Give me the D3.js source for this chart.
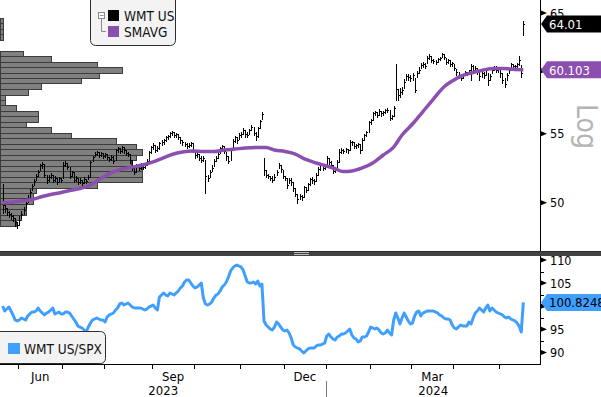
<!DOCTYPE html>
<html>
<head>
<meta charset="utf-8">
<script src="https://cdn.jsdelivr.net/npm/d3@7"></script>
<style>
  html, body { margin: 0; padding: 0; background: #fff; }
  svg { display: block; font-family: "DejaVu Sans Condensed", "DejaVu Sans", sans-serif; font-stretch: condensed; }
</style>
</head>
<body>
<div id="chart"></div>
<script>
// trading calendar: first / last day and exchange holidays in between
const startDay = "2023-05-19", endDay = "2024-05-16";
const holidays = ["2023-05-29", "2023-06-19", "2023-07-04", "2023-09-04", "2023-11-23",
  "2023-12-25", "2024-01-01", "2024-01-15", "2024-02-19", "2024-03-29"];

// WMT US daily bars (split adjusted): close, high, low
const wmtClose = [
  49.84, 49.64, 49.36, 49.23, 49.09, 48.96, 48.69, 48.48, 48.82, 49.23,
  49.50, 49.98, 50.33, 50.75, 51.17, 51.52, 51.88, 52.17, 52.68, 52.75,
  51.95, 51.59, 51.81, 51.95, 51.59, 51.74, 51.45, 51.74, 51.59, 52.68,
  52.82, 52.53, 51.88, 52.17, 51.59, 51.74, 51.45, 51.59, 51.38, 51.66,
  51.52, 51.81, 52.90, 53.26, 53.48, 53.63, 53.41, 53.56, 53.34, 53.48,
  53.26, 53.12, 53.26, 52.97, 53.78, 53.93, 53.70, 54.00, 53.78, 53.56,
  53.48, 53.04, 52.46, 52.17, 52.60, 52.46, 52.75, 52.53, 52.68, 52.97,
  53.63, 54.00, 54.15, 53.78, 53.93, 54.30, 54.38, 54.53, 54.76, 54.83,
  55.06, 55.14, 54.91, 54.98, 54.76, 54.53, 54.38, 54.23, 54.08, 54.15,
  54.30, 53.78, 53.41, 53.48, 53.19, 53.04, 53.19, 51.88, 51.74, 52.17,
  52.46, 52.97, 53.19, 53.48, 53.93, 54.08, 53.70, 53.34, 52.97, 53.78,
  54.45, 54.76, 54.53, 54.91, 54.98, 55.29, 54.98, 54.91, 55.29, 55.52,
  55.06, 54.83, 55.44, 55.98,
  56.53, 52.31, 51.95, 51.88, 51.74, 51.59, 51.81, 52.17, 52.68, 52.39,
  51.88, 51.74, 51.24, 51.59, 51.45, 51.03, 50.61, 50.26, 50.47, 50.40,
  51.10, 50.89, 51.31, 51.66, 51.59, 51.52, 51.95, 52.39, 52.68, 52.46,
  52.60, 53.19, 52.90, 52.68, 52.24, 52.39, 52.90, 53.63, 53.78, 53.70,
  53.85, 53.78, 54.38, 54.38, 54.08, 54.15, 54.23, 53.78, 54.53, 54.91,
  55.14, 55.90, 56.06, 56.61, 56.68, 56.45, 56.76, 56.61, 56.68, 56.84,
  56.84, 56.21, 56.37, 57.00, 58.52, 58.03, 58.28, 58.44, 59.09, 59.58,
  59.50, 59.41, 59.66, 58.44, 59.83, 60.08, 60.49, 60.57, 60.41, 61.08,
  61.25, 60.91, 60.83, 60.74, 61.00, 61.08, 61.42, 61.17, 60.74, 60.91,
  60.57, 60.66, 60.24, 59.91, 59.58, 59.41, 59.66, 59.91, 59.83, 60.08,
  60.41, 60.08, 60.24, 60.08, 59.58, 59.83, 59.66, 60.08, 59.25, 59.58,
  60.08, 60.32, 60.08, 60.24, 59.83, 59.25, 58.92, 59.66, 60.08, 60.57,
  60.41, 60.41, 60.57, 60.91, 59.83, 64.01
];
const wmtHigh = [
  51.38, 49.84, 49.64, 49.50, 49.36, 49.23, 48.96, 48.75, 49.16, 49.50,
  49.77, 50.19, 50.61, 51.03, 51.38, 51.74, 52.10, 52.39, 52.82, 52.97,
  52.82, 51.95, 52.02, 52.17, 51.95, 51.95, 51.81, 51.88, 51.81, 52.97,
  53.04, 52.82, 52.53, 52.31, 52.17, 51.95, 51.81, 51.81, 51.66, 51.88,
  51.74, 52.02, 53.04, 53.41, 53.70, 53.78, 53.70, 53.70, 53.63, 53.63,
  53.48, 53.34, 53.48, 53.41, 53.93, 54.08, 54.00, 54.15, 54.08, 53.85,
  53.70, 53.56, 53.04, 52.60, 52.82, 52.75, 52.90, 52.82, 52.90, 53.19,
  53.78, 54.15, 54.38, 54.15, 54.15, 54.45, 54.60, 54.68, 54.91, 54.98,
  55.21, 55.29, 55.21, 55.14, 55.06, 54.83, 54.60, 54.45, 54.38, 54.38,
  54.45, 54.38, 53.85, 53.70, 53.56, 53.41, 53.41, 53.04, 52.02, 52.39,
  52.75, 53.19, 53.41, 53.70, 54.08, 54.23, 54.08, 53.63, 53.41, 53.93,
  54.68, 54.91, 54.83, 55.14, 55.21, 55.52, 55.29, 55.21, 55.44, 55.75,
  55.52, 55.21, 55.59, 56.14,
  56.76, 53.19, 52.31, 52.10, 51.95, 51.95, 52.10, 52.39, 52.90, 52.75,
  52.31, 51.95, 51.74, 51.81, 51.81, 51.45, 51.03, 50.61, 50.68, 50.61,
  51.24, 51.17, 51.45, 51.81, 51.88, 51.74, 52.17, 52.60, 52.82, 52.75,
  52.75, 53.41, 53.26, 53.04, 52.68, 52.60, 53.12, 53.93, 54.00, 53.93,
  54.00, 53.93, 54.60, 54.53, 54.45, 54.30, 54.38, 54.30, 54.76, 55.06,
  55.29, 56.06, 56.21, 56.76, 56.84, 56.76, 57.00, 56.84, 56.84, 57.00,
  57.08, 56.84, 56.53, 57.24, 60.66, 58.60, 58.68, 58.76, 59.41, 59.83,
  59.83, 59.75, 59.91, 59.41, 60.08, 60.41, 60.74, 60.83, 60.74, 61.34,
  61.51, 61.34, 61.08, 61.00, 61.17, 61.25, 61.59, 61.42, 61.08, 61.08,
  60.91, 60.83, 60.57, 60.16, 59.91, 59.66, 59.83, 60.08, 59.99, 60.16,
  60.66, 60.57, 60.49, 60.32, 60.16, 60.08, 59.99, 60.32, 59.83, 59.83,
  60.32, 60.49, 60.49, 60.41, 60.24, 59.83, 59.50, 59.91, 60.32, 60.74,
  60.66, 60.57, 60.74, 61.34, 60.49, 64.38
];
const wmtLow = [
  49.30, 49.36, 49.16, 49.02, 48.89, 48.75, 48.41, 48.28, 48.48, 48.96,
  49.23, 49.64, 50.05, 50.40, 50.89, 51.24, 51.59, 51.88, 52.31, 52.46,
  51.81, 51.38, 51.52, 51.74, 51.45, 51.52, 51.31, 51.45, 51.45, 51.74,
  52.60, 52.39, 51.74, 51.88, 51.45, 51.52, 51.31, 51.38, 51.17, 51.38,
  51.38, 51.66, 51.81, 52.97, 53.34, 53.41, 53.26, 53.34, 53.19, 53.26,
  53.12, 52.97, 53.04, 52.82, 53.04, 53.63, 53.56, 53.63, 53.56, 53.41,
  53.34, 52.82, 52.31, 52.02, 52.17, 52.31, 52.39, 52.39, 52.46, 52.68,
  52.97, 53.56, 53.85, 53.63, 53.70, 53.85, 54.15, 54.23, 54.45, 54.60,
  54.76, 54.91, 54.76, 54.76, 54.60, 54.30, 54.15, 54.08, 53.93, 54.00,
  54.08, 53.63, 53.19, 53.26, 53.04, 52.90, 52.97, 50.68, 51.52, 51.81,
  52.24, 52.60, 52.97, 53.19, 53.56, 53.78, 53.56, 53.04, 52.82, 53.04,
  53.85, 54.38, 54.30, 54.60, 54.76, 54.98, 54.76, 54.76, 54.98, 55.29,
  54.91, 54.53, 54.76, 55.44,
  56.14, 51.95, 51.81, 51.74, 51.59, 51.45, 51.59, 51.95, 52.46, 52.17,
  51.74, 51.59, 51.03, 51.38, 51.24, 50.82, 50.47, 49.98, 50.26, 50.19,
  50.40, 50.75, 50.89, 51.24, 51.38, 51.31, 51.52, 51.95, 52.31, 52.31,
  52.39, 52.60, 52.75, 52.53, 52.10, 52.17, 52.31, 52.90, 53.56, 53.56,
  53.63, 53.56, 53.78, 54.15, 53.93, 53.93, 54.00, 53.56, 53.78, 54.53,
  54.83, 55.14, 55.75, 56.06, 56.45, 56.29, 56.45, 56.37, 56.45, 56.61,
  56.68, 56.06, 56.14, 56.37, 57.63, 57.63, 57.87, 58.11, 58.60, 59.25,
  59.25, 59.17, 59.25, 58.28, 59.50, 59.83, 60.24, 60.32, 60.24, 60.66,
  61.00, 60.74, 60.66, 60.57, 60.74, 60.91, 61.17, 61.00, 60.57, 60.66,
  60.41, 60.41, 60.08, 59.66, 59.41, 59.25, 59.41, 59.66, 59.66, 59.75,
  59.25, 59.91, 59.99, 59.75, 59.25, 59.50, 59.41, 59.66, 58.84, 59.25,
  59.83, 60.08, 59.91, 59.91, 59.50, 59.00, 58.68, 59.25, 59.83, 60.32,
  60.24, 60.16, 60.32, 60.49, 59.50, 63.06
];

const smavgDates = [
  "2023-05-19", "2023-05-26", "2023-06-02", "2023-06-09", "2023-06-16", "2023-06-23", "2023-06-30",
  "2023-07-07", "2023-07-14", "2023-07-21", "2023-07-28", "2023-08-04", "2023-08-11", "2023-08-18",
  "2023-08-25", "2023-09-01", "2023-09-08", "2023-09-15", "2023-09-22", "2023-09-29", "2023-10-06",
  "2023-10-13", "2023-10-20", "2023-10-27", "2023-11-03", "2023-11-10", "2023-11-17", "2023-11-24",
  "2023-12-01", "2023-12-08", "2023-12-15", "2023-12-22", "2023-12-29", "2024-01-05", "2024-01-12",
  "2024-01-19", "2024-01-26", "2024-02-02", "2024-02-09", "2024-02-16", "2024-02-23", "2024-03-01",
  "2024-03-08", "2024-03-15", "2024-03-22", "2024-03-28", "2024-04-05", "2024-04-12", "2024-04-19",
  "2024-04-26", "2024-05-03", "2024-05-10", "2024-05-16"
];
const smavgValues = [
  49.98, 50.05, 50.12, 50.22, 50.43, 50.57, 50.71,
  50.85, 50.99, 51.24, 51.70, 52.13, 52.38, 52.53,
  52.68, 52.90, 53.15, 53.45, 53.63, 53.70, 53.67,
  53.67, 53.78, 53.85, 53.93, 53.97, 53.97, 53.78,
  53.67, 53.48, 53.08, 52.82, 52.64, 52.46, 52.20,
  52.24, 52.46, 52.82, 53.41, 54.00, 54.91, 55.75,
  56.72, 57.71, 58.68, 59.17, 59.62, 59.87, 60.08,
  60.20, 60.20, 60.12, 60.103
];

// WMT US / SPX relative, daily
const relSpx = [
  100.04, 98.96, 99.39, 99.83, 98.96, 98.10, 97.01, 96.80, 97.01, 97.45,
  97.23, 97.01, 97.88, 98.31, 98.74, 98.74, 98.96, 99.61, 98.96, 98.53,
  98.10, 98.53, 98.74, 99.18, 99.61, 98.31, 98.53, 98.74, 98.31, 98.31,
  98.74, 98.74, 98.53, 97.88, 97.23, 96.58, 95.71, 95.49, 95.28, 94.85,
  94.42, 95.49, 96.36, 97.01, 97.23, 97.45, 97.23, 97.01, 97.01, 96.58,
  97.66, 98.10, 98.31, 98.53, 99.18, 99.61, 100.48, 100.69, 100.26, 100.48,
  100.69, 100.26, 99.83, 99.61, 99.61, 99.61, 99.61, 99.39, 99.18, 99.39,
  99.83, 100.04, 100.26, 99.61, 99.18, 101.99, 102.42, 102.86, 102.42, 102.21,
  102.86, 102.64, 102.42, 102.86, 103.29, 103.94, 104.37, 105.24, 105.67, 105.67,
  105.02, 104.37, 103.94, 104.16, 104.59, 105.02, 101.77, 100.48, 100.26, 100.48,
  100.91, 101.77, 102.42, 102.64, 103.29, 104.16, 104.59, 105.24, 106.32, 107.62,
  108.27, 108.70, 108.92, 108.70, 108.49, 107.84, 106.54, 105.24, 105.02, 105.02,
  105.24, 104.81, 105.45, 104.37,
  104.81, 96.80, 95.93, 95.49, 95.06,
  94.85, 95.49, 96.58, 96.15, 95.49, 94.85, 94.63, 94.85, 94.20, 93.12,
  91.60, 91.17, 90.95, 90.74, 90.30, 89.87, 90.30, 90.74, 90.95, 90.95,
  90.95, 91.39, 91.60, 91.60, 91.82, 92.03, 93.55, 93.98, 93.33, 92.90,
  92.68, 93.33, 93.55, 93.98, 93.98, 94.20, 94.63, 95.06, 93.77, 93.12,
  92.90, 92.25, 92.47, 93.33, 93.33, 93.55, 94.42, 95.49, 95.28, 95.06,
  95.28, 94.85, 94.20, 93.98, 94.20, 94.85, 94.20, 93.77, 97.01, 98.53,
  97.45, 96.15, 97.45, 98.53, 97.66, 96.80, 96.15, 96.36, 97.88, 98.74,
  98.96, 97.88, 98.53, 98.74, 98.96, 98.96, 98.96, 98.96, 98.74, 98.53,
  98.10, 97.88, 97.45, 97.23, 97.23, 97.01, 95.93, 95.28, 95.06, 95.49,
  95.93, 95.71, 95.71, 95.71, 96.58, 96.15, 97.45, 98.53, 98.96, 99.61,
  99.18, 98.74, 99.61, 100.26, 98.96, 99.61, 99.18, 98.74, 98.53, 98.31,
  98.10, 97.66, 97.45, 97.66, 97.23, 97.01, 96.80, 96.36, 95.71, 94.42,
  100.8248
];

// volume at price: bin edges (high to low) and relative volume per bin
const volPriceEdges = [64.56, 64.07, 63.60, 63.12, 62.64, 62.17, 61.70, 61.23, 60.78, 60.31,
  59.86, 59.41, 58.97, 58.52, 58.07, 57.63, 57.20, 56.77, 56.34, 55.92,
  55.50, 55.08, 54.66, 54.25, 53.84, 53.43, 53.03, 52.63, 52.23, 51.84,
  51.45, 51.06, 50.67, 50.30, 49.92, 49.54, 49.17, 48.80, 48.43];
const volAtPrice = [1.9, 1.9, 1.9, 1.9, 0, 0, 16, 36, 68, 86,
  70, 57, 29, 20, 3.7, 3.7, 11, 27, 27, 18,
  36, 50, 82, 96, 100, 96, 92, 100, 100, 100,
  68, 25, 23, 23, 18, 18, 15, 11];

const priceTicks = [50, 55, 60, 65];
const relTicks = [90, 95, 100, 105, 110];
const relMinorTicks = [92.5, 97.5, 102.5, 107.5];
const labeledMonths = ["Jun", "Sep", "Dec", "Mar"];

const purple = "#8b4fb0", blue = "#3f9fff";

// build the trading-day list
const hol = new Set(holidays);
const days = [];
for (let d = new Date(startDay + "T12:00:00Z"); d <= new Date(endDay + "T12:00:00Z"); d.setUTCDate(d.getUTCDate() + 1)) {
  const iso = d.toISOString().slice(0, 10);
  if (d.getUTCDay() !== 0 && d.getUTCDay() !== 6 && !hol.has(iso)) days.push(iso);
}

const W = 601, H = 397;
const plotRight = 540;
const topPanel = {y0: 0, y1: 251}, botPanel = {y0: 256, y1: 364};

const svg = d3.select("#chart").append("svg")
  .attr("width", W).attr("height", H);

const x = d3.scaleLinear().domain([0, days.length - 1]).range([2.6, 523.35]);
const yTop = d3.scaleLog().domain([50, 65]).range([202.7, 13]);
const yBot = d3.scaleLinear().domain([90, 110]).range([352.4, 260]);
const xVol = d3.scaleLinear().domain([0, 100]).range([0, 142]);

svg.append("clipPath").attr("id", "clipTop")
  .append("rect").attr("x", 0).attr("y", topPanel.y0).attr("width", plotRight).attr("height", topPanel.y1 - topPanel.y0);
svg.append("clipPath").attr("id", "clipBot")
  .append("rect").attr("x", 0).attr("y", botPanel.y0).attr("width", plotRight).attr("height", botPanel.y1 - botPanel.y0);

// ---- top panel ----
const gTop = svg.append("g").attr("clip-path", "url(#clipTop)");

// volume at price histogram
const bins = volAtPrice.map((v, i) => ({v, hi: volPriceEdges[i], lo: volPriceEdges[i + 1]}))
  .filter(d => d.v > 0);
gTop.append("g").selectAll("rect")
  .data(bins)
  .join("rect")
    .attr("x", 0.5)
    .attr("y", d => Math.round(yTop(d.hi)) + 0.5)
    .attr("width", d => Math.max(1, Math.round(xVol(d.v))))
    .attr("height", d => Math.round(yTop(d.lo)) - Math.round(yTop(d.hi)))
    .attr("fill", "#808080")
    .attr("stroke", "#3c3c3c")
    .attr("stroke-width", 1)
    .attr("shape-rendering", "crispEdges");

// OHLC bars; the open tick sits at the previous close, kept inside the day's range
const py = v => Math.round(yTop(v)) + 0.5;
let barPath = "";
wmtClose.forEach((c, i) => {
  const o = Math.max(wmtLow[i], Math.min(wmtHigh[i], i > 0 ? wmtClose[i - 1] : c));
  const xi = Math.round(x(i)) + 0.5;
  barPath += `M${xi},${py(wmtHigh[i])}V${py(wmtLow[i])}`
    + `M${xi - 1},${py(o)}H${xi}M${xi},${py(c)}H${xi + 1}`;
});
gTop.append("path")
  .attr("d", barPath)
  .attr("fill", "none")
  .attr("stroke", "#000")
  .attr("stroke-width", 1)
  .attr("shape-rendering", "crispEdges");

// moving average
const smaPts = smavgDates.map((d, i) => [days.indexOf(d), smavgValues[i]]);
gTop.append("path")
  .datum(smaPts)
  .attr("d", d3.line().x(d => x(d[0])).y(d => yTop(d[1])).curve(d3.curveMonotoneX))
  .attr("fill", "none")
  .attr("stroke", purple)
  .attr("stroke-width", 3.5)
  .attr("stroke-linejoin", "round");

// ---- bottom panel ----
svg.append("g").attr("clip-path", "url(#clipBot)")
  .append("path")
  .datum(relSpx)
  .attr("d", d3.line().x((d, i) => x(i)).y(d => yBot(d)))
  .attr("fill", "none")
  .attr("stroke", blue)
  .attr("stroke-width", 3)
  .attr("stroke-linejoin", "round");

// ---- axes ----
svg.append("line")
  .attr("x1", plotRight + 0.5).attr("x2", plotRight + 0.5)
  .attr("y1", 0).attr("y2", botPanel.y1 + 0.5)
  .attr("stroke", "#000");
svg.append("line")
  .attr("x1", 0).attr("x2", plotRight + 1)
  .attr("y1", botPanel.y1 + 0.5).attr("y2", botPanel.y1 + 0.5)
  .attr("stroke", "#000");

const arrow = y => `M${plotRight + 1},${y - 2.5}L${plotRight + 7},${y}L${plotRight + 1},${y + 2.5}Z`;

// last value tags (drawn later) hide the axis labels beneath them
const tagYs = [yTop(wmtClose[wmtClose.length - 1]), yTop(smavgValues[smavgValues.length - 1]),
  yBot(relSpx[relSpx.length - 1])];
const hidden = y => tagYs.some(t => Math.abs(t - y) < 9);

const gPriceAxis = svg.append("g");
priceTicks.forEach(t => {
  const y = yTop(t);
  gPriceAxis.append("path").attr("d", arrow(y)).attr("fill", "#000");
  if (!hidden(y)) gPriceAxis.append("text").attr("x", plotRight + 10).attr("y", y + 4.5)
    .attr("font-size", 12.5).text(t);
});

const gRelAxis = svg.append("g");
relMinorTicks.forEach(t => {
  gRelAxis.append("line")
    .attr("x1", plotRight).attr("x2", plotRight + 4)
    .attr("y1", Math.round(yBot(t)) + 0.5).attr("y2", Math.round(yBot(t)) + 0.5)
    .attr("stroke", "#000");
});
relTicks.forEach(t => {
  const y = yBot(t);
  gRelAxis.append("path").attr("d", arrow(y)).attr("fill", "#000");
  if (!hidden(y)) gRelAxis.append("text").attr("x", plotRight + 10).attr("y", y + 4.5)
    .attr("font-size", 12.5).text(t);
});

// "Log" marker
svg.append("text")
  .attr("transform", "translate(577,104) rotate(90)")
  .attr("font-size", 28)
  .attr("fill", "#b4b4b4")
  .text("Log");

const tag = (y, text, fill, color) => {
  const g = svg.append("g");
  g.append("path")
    .attr("d", `M${plotRight + 1},${y}L${plotRight + 7},${y - 8.5}H${W}V${y + 8.5}H${plotRight + 7}Z`)
    .attr("fill", fill);
  g.append("text").attr("x", plotRight + 9).attr("y", y + 5)
    .attr("font-size", 13).attr("fill", color).text(text);
};
tag(tagYs[0], d3.format(".2f")(wmtClose[wmtClose.length - 1]), "#000", "#fff");
tag(tagYs[1], String(smavgValues[smavgValues.length - 1]), purple, "#fff");
tag(tagYs[2], String(relSpx[relSpx.length - 1]), blue, "#000");

// time axis: month ticks between bars, quarter labels, years
const monthStarts = days.map((d, i) => i).filter(i => i > 0 && days[i].slice(5, 7) !== days[i - 1].slice(5, 7));
const tickX = i => Math.round(x(i - 0.5)) + 0.5;
svg.append("g").selectAll("line")
  .data(monthStarts)
  .join("line")
    .attr("x1", tickX).attr("x2", tickX)
    .attr("y1", botPanel.y1).attr("y2", botPanel.y1 + 5)
    .attr("stroke", "#000");

const fmtMonth = d3.utcFormat("%b");
monthStarts.forEach((s, k) => {
  const name = fmtMonth(new Date(days[s] + "T12:00:00Z"));
  if (!labeledMonths.includes(name)) return;
  const e = k + 1 < monthStarts.length ? monthStarts[k + 1] : days.length;
  svg.append("text")
    .attr("x", (x(s - 0.5) + x(e - 0.5)) / 2).attr("y", 381)
    .attr("text-anchor", "middle").attr("font-size", 13)
    .text(name);
});

const yearStart = days.findIndex(d => d.startsWith("2024"));
const yearX = tickX(yearStart);
svg.append("line")
  .attr("x1", yearX).attr("x2", yearX).attr("y1", 381).attr("y2", H)
  .attr("stroke", "#777");
[["2023", 0, yearX], ["2024", yearX, plotRight]].forEach(([label, a, b]) => {
  svg.append("text")
    .attr("x", (a + b) / 2).attr("y", 395)
    .attr("text-anchor", "middle").attr("font-size", 13)
    .text(label);
});

// panel divider with grip
svg.append("rect").attr("x", 0).attr("y", 251).attr("width", W).attr("height", 5).attr("fill", "#424242");
svg.append("rect").attr("x", 0).attr("y", 251).attr("width", W).attr("height", 1).attr("fill", "#2a2a2a");
[252.5, 254.5].forEach(y => svg.append("line")
  .attr("x1", 294).attr("x2", 309).attr("y1", y).attr("y2", y)
  .attr("stroke", "#bdbdbd"));

// legends
const legTop = svg.append("g");
legTop.append("rect")
  .attr("x", 90.5).attr("y", -6.5).attr("width", 85).attr("height", 52).attr("rx", 5)
  .attr("fill", "#f3f3f3").attr("stroke", "#2e2e2e");
legTop.append("rect").attr("x", 98.5).attr("y", 12.5).attr("width", 6).attr("height", 6)
  .attr("fill", "#fff").attr("stroke", "#8a8a8a");
legTop.append("path").attr("d", "M100,15.5H103.5M101.5,18.5V31.5H106")
  .attr("fill", "none").attr("stroke", "#8a8a8a");
legTop.append("rect").attr("x", 108).attr("y", 10).attr("width", 11).attr("height", 11).attr("fill", "#000");
legTop.append("rect").attr("x", 108).attr("y", 26).attr("width", 11).attr("height", 11).attr("fill", purple);
legTop.append("text").attr("x", 124).attr("y", 20.5).attr("font-size", 13.5).attr("fill", "#111").text("WMT US");
legTop.append("text").attr("x", 124).attr("y", 36.5).attr("font-size", 13.5).attr("fill", "#111").text("SMAVG");

const legBot = svg.append("g");
legBot.append("rect")
  .attr("x", -5.5).attr("y", 331.5).attr("width", 111).attr("height", 32).attr("rx", 5)
  .attr("fill", "#f3f3f3").attr("stroke", "#2e2e2e");
legBot.append("rect").attr("x", 8).attr("y", 343).attr("width", 12).attr("height", 11).attr("fill", blue);
legBot.append("text").attr("x", 24).attr("y", 354).attr("font-size", 13.5).attr("fill", "#111").text("WMT US/SPX");
</script>
</body>
</html>
